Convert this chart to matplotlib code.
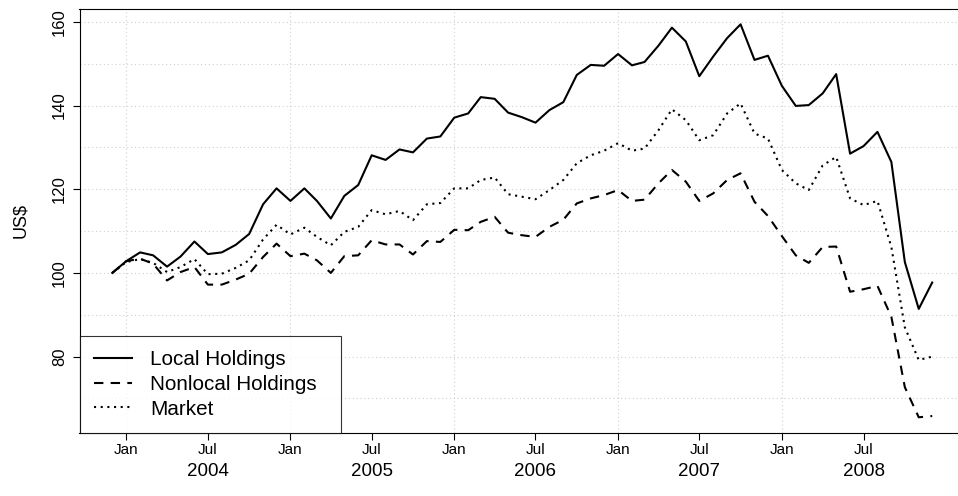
import numpy as np
import pandas as pd
import matplotlib
matplotlib.use("Agg")
import matplotlib.pyplot as plt
import matplotlib.dates as mdates

plt.rcParams['font.family'] = ['Liberation Sans', 'DejaVu Sans']

# monthly index values, Dec 2003 .. Dec 2008
months = pd.date_range('2003-12-01', periods=61, freq='MS')

local = [100.0, 102.8, 104.9, 104.2, 101.5, 103.9, 107.5, 104.5, 104.9, 106.7,
         109.3, 116.4, 120.2, 117.2, 120.2, 117.2, 113.0, 118.4, 121.0, 128.1,
         127.0, 129.5, 128.8, 132.1, 132.6, 137.1, 138.1, 142.0, 141.6, 138.3,
         137.2, 135.9, 138.9, 140.8, 147.3, 149.7, 149.5, 152.3, 149.6, 150.4,
         154.3, 158.6, 155.3, 147.0, 151.7, 156.1, 159.4, 150.9, 151.9, 144.7,
         139.9, 140.1, 142.9, 147.5, 128.5, 130.3, 133.7, 126.5, 102.6, 91.4,
         97.7]
nonlocal_ = [100.0, 102.8, 103.4, 102.2, 98.2, 100.2, 101.4, 97.2, 97.2, 98.4,
             99.8, 103.8, 107.0, 104.0, 104.6, 103.0, 100.0, 104.0, 104.2, 107.8,
             106.8, 106.8, 104.4, 107.6, 107.4, 110.3, 110.2, 112.2, 113.4, 109.6,
             109.0, 108.6, 111.0, 112.7, 116.6, 117.8, 118.6, 119.8, 117.2, 117.5,
             121.4, 124.6, 121.8, 117.2, 119.0, 122.2, 123.8, 117.0, 113.6, 108.8,
             104.2, 102.4, 106.2, 106.3, 95.5, 96.1, 96.9, 89.5, 72.7, 65.5,
             65.8]
market = [100.0, 102.6, 103.3, 102.4, 100.2, 101.4, 103.3, 99.7, 99.8, 101.2,
          103.0, 108.0, 111.5, 109.2, 110.8, 108.6, 106.6, 109.8, 111.0, 115.0,
          114.0, 114.8, 112.6, 116.4, 116.7, 120.2, 120.2, 122.2, 122.8, 118.8,
          118.2, 117.6, 119.8, 122.2, 126.2, 128.1, 129.2, 131.0, 129.2, 129.7,
          134.1, 139.1, 136.5, 131.7, 132.9, 138.1, 140.5, 133.3, 132.1, 124.6,
          121.4, 119.8, 125.7, 127.7, 117.8, 116.2, 117.2, 106.2, 87.0, 79.2,
          80.0]

series_labels = ['Local Holdings', 'Nonlocal Holdings', 'Market']
years = [2004, 2005, 2006, 2007, 2008]
yticks = [80, 100, 120, 140, 160]
ygrid = [70, 80, 90, 100, 110, 120, 130, 140, 150, 160]

fig = plt.figure(figsize=(9.58, 4.96), dpi=100)
# plot region is wider than the picture: right edge falls off the canvas
ax = fig.add_axes([79.5 / 958, 63 / 496, 885.5 / 958, 424.4 / 496])

x = mdates.date2num(months)
xpad = 0.04 * (x[-1] - x[0])
ax.set_xlim(x[0] - xpad, x[-1] + xpad)
allv = local + nonlocal_ + market
ypad = 0.04 * (max(allv) - min(allv))
ax.set_ylim(min(allv) - ypad, max(allv) + ypad)

jan = [mdates.date2num(pd.Timestamp(f'{y}-01-01')) for y in years]
jul = [mdates.date2num(pd.Timestamp(f'{y}-07-01')) for y in years]

grid_kw = dict(color='#cfcfcf', lw=0.8, ls=(0, (1, 2.5)), zorder=0)
for g in ygrid:
    ax.axhline(g, **grid_kw)
for j in jan:
    ax.axvline(j, **grid_kw)

ax.plot(x, local, color='black', lw=1.5, ls='-', label=series_labels[0])
ax.plot(x, nonlocal_, color='black', lw=1.5, ls=(0, (4.5, 3.5)), label=series_labels[1])
ax.plot(x, market, color='black', lw=1.5, ls=(0, (1, 2.2)), label=series_labels[2])

ticks = sorted(jan + jul)
ax.set_xticks(ticks)
ax.set_xticklabels(['Jan' if t in jan else 'Jul' for t in ticks], fontsize=11)
for jx, yr in zip(jul, years):
    ax.annotate(str(yr), xy=(jx, 0), xycoords=('data', 'axes fraction'),
                xytext=(0, -28), textcoords='offset points',
                ha='center', va='center', fontsize=13.5)

ax.set_yticks(yticks)
ax.set_yticklabels([str(v) for v in yticks], fontsize=12, rotation=90, va='center')
ax.tick_params(direction='out', length=5, width=0.8, color='black')
ax.tick_params(axis='x', pad=2.5)
ax.tick_params(axis='y', pad=4)

ax.set_ylabel('US$', fontsize=13, va='center')
ax.yaxis.set_label_coords(-58.5 / 885.5, 0.5)

for s in ax.spines.values():
    s.set_linewidth(0.8)
    s.set_color('black')

leg_w = (341 - 79.5) / 885.5
leg = ax.legend(loc='lower left', bbox_to_anchor=(0, 0, leg_w, 0), mode='expand',
                borderaxespad=0, fontsize=14.9, frameon=True, fancybox=False,
                edgecolor='black', handlelength=1.85, handletextpad=0.85,
                labelspacing=0.27, borderpad=0.7)
leg.get_frame().set_linewidth(0.8)

fig.savefig('out.png', dpi=100)
